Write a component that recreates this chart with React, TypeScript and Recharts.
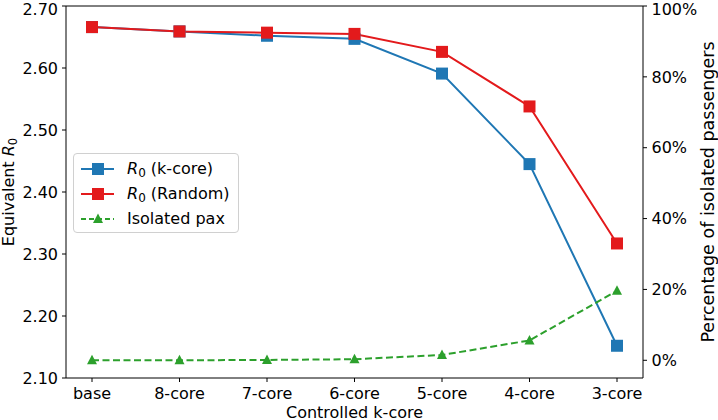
import React from "react";
import { LineChart, Line, XAxis, YAxis, ReferenceLine } from "recharts";

const cores = ["base", "8-core", "7-core", "6-core", "5-core", "4-core", "3-core"];
const r0KCore = [2.666, 2.659, 2.652, 2.647, 2.591, 2.445, 2.152];
const r0Random = [2.666, 2.659, 2.657, 2.655, 2.626, 2.538, 2.317];
const isolatedPax = [0.0, 0.0, 0.001, 0.003, 0.015, 0.056, 0.196];
const leftTicks = [2.1, 2.2, 2.3, 2.4, 2.5, 2.6, 2.7];
const rightTicks = [0, 0.2, 0.4, 0.6, 0.8, 1.0];

const BLUE = "#1f77b4";
const RED = "#e31a1c";
const GREEN = "#2ca02c";
const FONT = "DejaVu Sans";

const data = cores.map((name, i) => ({
  name,
  kcore: r0KCore[i],
  random: r0Random[i],
  pax: isolatedPax[i],
}));

const tickStyle = { fill: "#000", fontSize: 16, fontFamily: FONT };

const squareDot = (color: string) => (props: any) => {
  const { cx, cy, index } = props;
  if (cx == null || cy == null) return <g key={index} />;
  return <rect key={index} x={cx - 6} y={cy - 6} width={12} height={12} fill={color} />;
};

const triangleDot = (props: any) => {
  const { cx, cy, index } = props;
  if (cx == null || cy == null) return <g key={index} />;
  return (
    <polygon
      key={index}
      points={`${cx},${cy - 5.5} ${cx - 5},${cy + 4} ${cx + 5},${cy + 4}`}
      fill={GREEN}
    />
  );
};

const R0 = () => (
  <>
    <i>R</i>
    <span style={{ fontSize: 12, position: "relative", top: 3 }}>0</span>
  </>
);

const legendItems = [
  { key: "k", color: BLUE, marker: "square", dashed: false, label: <><R0 /> (k-core)</> },
  { key: "r", color: RED, marker: "square", dashed: false, label: <><R0 /> (Random)</> },
  { key: "p", color: GREEN, marker: "triangle", dashed: true, label: <>Isolated pax</> },
];

const ChartLegend = () => (
  <div
    style={{
      position: "absolute",
      left: 73,
      top: 153,
      width: 164,
      height: 76,
      border: "1px solid #d0d0d0",
      borderRadius: 4,
      background: "rgba(255,255,255,0.8)",
      fontFamily: FONT,
      fontSize: 16,
      color: "#000",
      paddingTop: 2,
    }}
  >
    {legendItems.map((it) => (
      <div key={it.key} style={{ display: "flex", alignItems: "center", height: 25 }}>
        <svg width={52} height={20} style={{ marginLeft: 5 }}>
          <line
            x1={2}
            x2={35}
            y1={10}
            y2={10}
            stroke={it.color}
            strokeWidth={2}
            strokeDasharray={it.dashed ? "5 3" : undefined}
          />
          {it.marker === "square" ? (
            <rect x={13} y={4} width={12} height={12} fill={it.color} />
          ) : (
            <polygon points="19,4.5 14,14 24,14" fill={it.color} />
          )}
        </svg>
        <span style={{ marginLeft: -4 }}>{it.label}</span>
      </div>
    ))}
  </div>
);

const LeftLabel = (props: any) => {
  const vb = props.viewBox || { x: 0, y: 6, width: 66, height: 372 };
  const cx = vb.x + 14;
  const cy = vb.y + vb.height / 2;
  return (
    <text
      transform={`translate(${cx},${cy}) rotate(-90)`}
      textAnchor="middle"
      fontFamily={FONT}
      fontSize={16}
      fill="#000"
    >
      Equivalent <tspan fontStyle="italic">R</tspan>
      <tspan fontSize={11.5} dy={3}>0</tspan>
    </text>
  );
};

const RightLabel = (props: any) => {
  const vb = props.viewBox || { x: 643, y: 6, width: 75, height: 372 };
  const cx = vb.x + 70.5;
  const cy = vb.y + vb.height / 2;
  return (
    <text
      transform={`translate(${cx},${cy}) rotate(-90)`}
      textAnchor="middle"
      fontFamily={FONT}
      fontSize={17.5}
      fill="#000"
    >
      Percentage of isolated passengers
    </text>
  );
};

const BottomLabel = (props: any) => {
  const vb = props.viewBox || { x: 66, y: 378, width: 577, height: 42 };
  return (
    <text
      x={vb.x + vb.width / 2}
      y={vb.y + 39.5}
      textAnchor="middle"
      fontFamily={FONT}
      fontSize={16}
      fill="#000"
    >
      Controlled k-core
    </text>
  );
};

export default function App() {
  return (
    <div style={{ position: "absolute", left: 0, top: 0, width: 718, height: 420, background: "#fff" }}>
      <LineChart width={718} height={420} data={data} margin={{ top: 6, right: 0, bottom: 0, left: 0 }}>
        <XAxis
          dataKey="name"
          height={42}
          padding={{ left: 26, right: 26 }}
          tick={tickStyle}
          tickSize={4}
          tickMargin={5.5}
          tickLine={{ stroke: "#000" }}
          axisLine={{ stroke: "#000" }}
          label={<BottomLabel />}
        />
        <YAxis
          yAxisId="left"
          domain={[2.1, 2.7]}
          ticks={leftTicks}
          tickFormatter={(v: number) => v.toFixed(2)}
          width={66}
          tick={tickStyle}
          tickSize={4}
          tickMargin={4}
          tickLine={{ stroke: "#000" }}
          axisLine={{ stroke: "#000" }}
          allowDataOverflow
          label={<LeftLabel />}
        />
        <YAxis
          yAxisId="right"
          orientation="right"
          domain={[-0.05, 1.0]}
          ticks={rightTicks}
          tickFormatter={(v: number) => `${Math.round(v * 100)}%`}
          width={75}
          tick={tickStyle}
          tickSize={4}
          tickMargin={4.5}
          tickLine={{ stroke: "#000" }}
          axisLine={{ stroke: "#000" }}
          allowDataOverflow
          label={<RightLabel />}
        />
        <ReferenceLine yAxisId="left" y={2.7} stroke="#000" />
        <Line
          yAxisId="left"
          dataKey="kcore"
          stroke={BLUE}
          strokeWidth={2}
          dot={squareDot(BLUE)}
          activeDot={false}
          isAnimationActive={false}
        />
        <Line
          yAxisId="left"
          dataKey="random"
          stroke={RED}
          strokeWidth={2}
          dot={squareDot(RED)}
          activeDot={false}
          isAnimationActive={false}
        />
        <Line
          yAxisId="right"
          dataKey="pax"
          stroke={GREEN}
          strokeWidth={2}
          strokeDasharray="7 3.5"
          dot={triangleDot}
          activeDot={false}
          isAnimationActive={false}
        />
      </LineChart>
      <ChartLegend />
    </div>
  );
}
